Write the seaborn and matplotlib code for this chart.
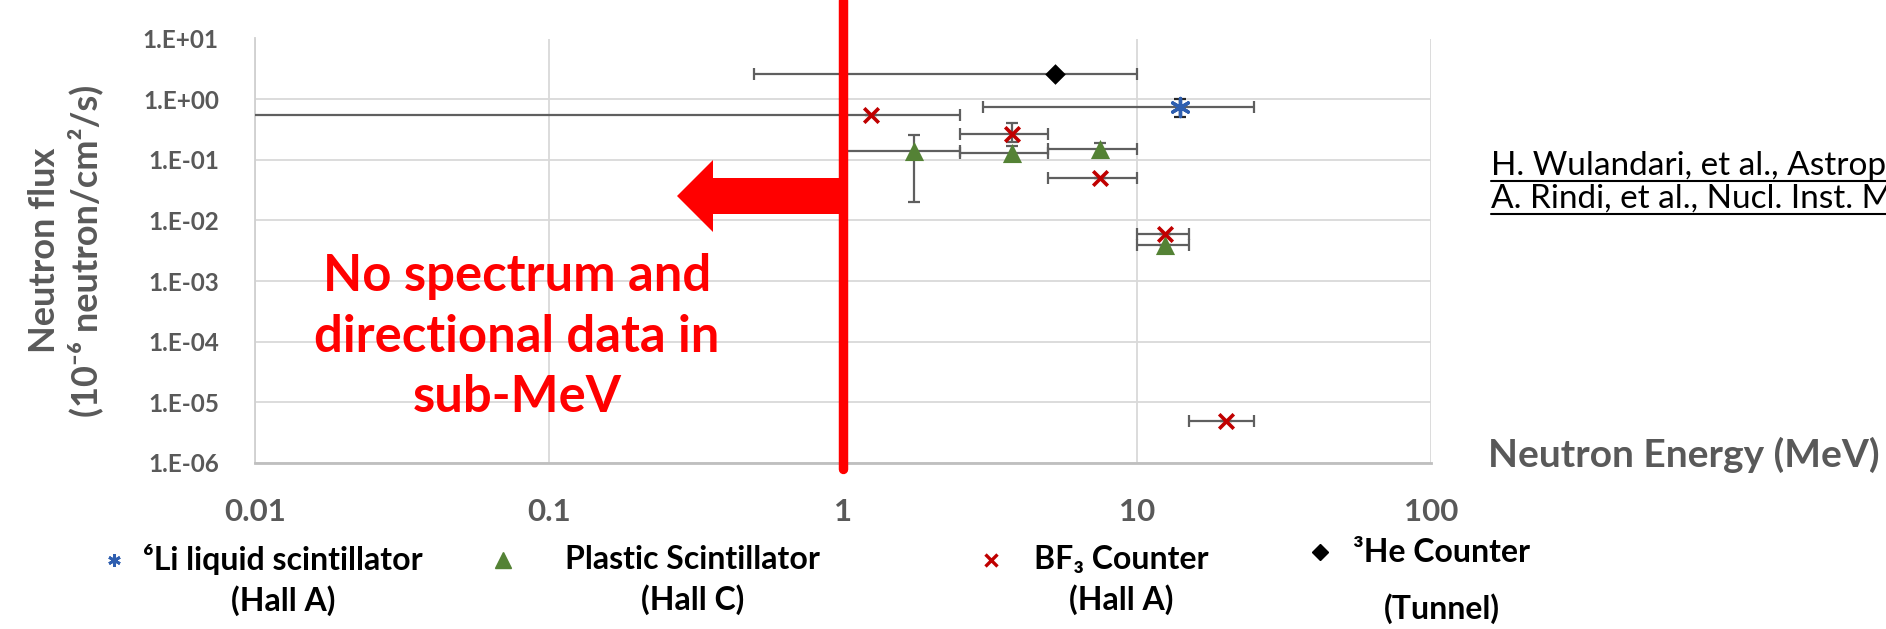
import numpy as np
import pandas as pd
import matplotlib
matplotlib.use("Agg")
import matplotlib.pyplot as plt
import seaborn as sns
from matplotlib.lines import Line2D
from matplotlib.patches import FancyArrow
from matplotlib.legend_handler import HandlerLine2D
from matplotlib.ticker import FuncFormatter, FixedLocator, NullLocator

# ---------------- data ----------------
li_E = [14.0]
li_F = [0.75]
li_Elo = [3.0]
li_Ehi = [25.0]
li_Flo = [0.5]
li_Fhi = [1.0]

pl_E = [1.75, 3.75, 7.5, 12.5]
pl_F = [0.14, 0.13, 0.15, 0.004]
pl_Elo = [1.0, 2.5, 5.0, 10.0]
pl_Ehi = [2.5, 5.0, 10.0, 15.0]
pl_Flo = [0.02, 0.10, 0.12, 0.004]
pl_Fhi = [0.26, 0.17, 0.19, 0.004]

bf_E = [1.25, 3.75, 7.5, 12.5, 20.0]
bf_F = [0.55, 0.27, 0.05, 0.006, 5e-6]
bf_Elo = [0.001, 2.5, 5.0, 10.0, 15.0]
bf_Ehi = [2.5, 5.0, 10.0, 15.0, 25.0]
bf_Flo = [0.55, 0.20, 0.05, 0.006, 5e-6]
bf_Fhi = [0.55, 0.40, 0.05, 0.006, 5e-6]

he_E = [5.25]
he_F = [2.6]
he_Elo = [0.5]
he_Ehi = [10.0]
he_Flo = [2.6]
he_Fhi = [2.6]

x_ticks = [0.01, 0.1, 1, 10, 100]
y_ticks = [1e-6, 1e-5, 1e-4, 1e-3, 1e-2, 1e-1, 1e0, 1e1]

labels = ["\u2076Li liquid scintillator\n(Hall A)",
          "Plastic Scintillator\n(Hall C)",
          "BF\u2083 Counter\n(Hall A)",
          "\u00b3He Counter\n(Tunnel)"]

# ---------------- style ----------------
sns.set_style("white")
FAM = ['Lato', 'DejaVu Sans']
plt.rcParams['font.family'] = FAM

W, H = 1886, 629
fig = plt.figure(figsize=(W / 100, H / 100), dpi=100)
ax_l, ax_r, ax_t, ax_b = 255, 1431, 38.5, 463
ax = fig.add_axes([ax_l / W, 1 - ax_b / H, (ax_r - ax_l) / W, (ax_b - ax_t) / H])

GREY = "#595959"
ERR = "#5f5f5f"
BLUE = "#2f5fb0"
GREEN = "#548235"
RED = "#c00000"

series = [
    (li_E, li_F, li_Elo, li_Ehi, li_Flo, li_Fhi, BLUE, (6, 2, 0), 170, 2.4, "#262626"),
    (pl_E, pl_F, pl_Elo, pl_Ehi, pl_Flo, pl_Fhi, GREEN, "^", 190, 0, ERR),
    (bf_E, bf_F, bf_Elo, bf_Ehi, bf_Flo, bf_Fhi, RED, "x", 110, 2.6, ERR),
    (he_E, he_F, he_Elo, he_Ehi, he_Flo, he_Fhi, "black", "D", 110, 0, ERR),
]

for E, F, Elo, Ehi, Flo, Fhi, col, mk, s, lw, ecol in series:
    E = np.array(E); F = np.array(F)
    xerr = [E - np.array(Elo), np.array(Ehi) - E]
    yerr = [F - np.array(Flo), np.array(Fhi) - F]
    ax.errorbar(E, F, xerr=xerr, fmt="none", ecolor=ERR, elinewidth=1.6,
                capsize=4, capthick=1.6, zorder=3)
    if np.any(yerr[0] > 0) or np.any(yerr[1] > 0):
        ax.errorbar(E, F, yerr=yerr, fmt="none", ecolor=ecol, elinewidth=1.6,
                    capsize=4.5, capthick=1.6, zorder=3)
    df = pd.DataFrame({"energy": E, "flux": F})
    if lw > 0:
        sns.scatterplot(data=df, x="energy", y="flux", ax=ax, marker=mk, s=s,
                        color=col, linewidth=lw, zorder=4, legend=False)
    else:
        sns.scatterplot(data=df, x="energy", y="flux", ax=ax, marker=mk, s=s,
                        color=col, linewidth=0, edgecolor=col, zorder=4, legend=False)

ax.set_xscale("log")
ax.set_yscale("log")
ax.set_xlim(0.01, 100)
ax.set_ylim(1e-6, 1e1)
ax.xaxis.set_major_locator(FixedLocator(x_ticks))
ax.yaxis.set_major_locator(FixedLocator(y_ticks))
ax.xaxis.set_minor_locator(NullLocator())
ax.yaxis.set_minor_locator(NullLocator())
ax.xaxis.set_major_formatter(FuncFormatter(lambda v, p: f"{v:g}"))
ax.yaxis.set_major_formatter(FuncFormatter(lambda v, p: f"1.E{int(round(np.log10(v))):+03d}"))
ax.tick_params(axis="x", length=0, pad=25, labelsize=22.5, labelcolor=GREY)
ax.tick_params(axis="y", length=0, pad=26, labelsize=17.5, labelcolor=GREY)
for t in ax.get_xticklabels() + ax.get_yticklabels():
    t.set_fontweight("bold")

ax.grid(True, color="#d9d9d9", linewidth=1.3)
ax.set_axisbelow(True)
for sp in ["top", "right"]:
    ax.spines[sp].set_visible(False)
ax.spines["left"].set_color("#d0d0d0")
ax.spines["left"].set_linewidth(1.3)
ax.spines["bottom"].set_color("#bfbfbf")
ax.spines["bottom"].set_linewidth(2)

ax.set_ylabel("Neutron flux\n(10\u207b\u2076 neutron/cm\u00b2/s)", fontsize=26,
              fontweight="bold", color=GREY, linespacing=1.2)
ax.yaxis.label.set_va("center")
ax.yaxis.set_label_coords(-0.161, 0.5)

ax.set_xlabel("Neutron Energy (MeV)", fontsize=28, fontweight="bold", color=GREY,
              ha="left", va="center")
ax.xaxis.set_label_coords((1488 - ax_l) / (ax_r - ax_l), (ax_b - 455) / (ax_b - ax_t))

# red boundary at 1 MeV
ax.axvline(1, ymin=-0.015, ymax=1 + ax_t / (ax_b - ax_t), color="#ff0000",
           linewidth=6.8, clip_on=False, zorder=6)

# arrow
axw, axh = ax_r - ax_l, ax_b - ax_t
tail_x = (841 - ax_l) / axw
tip_x = (677 - ax_l) / axw
yc = (ax_b - 196) / axh
arrow = FancyArrow(tail_x, yc, tip_x - tail_x, 0, width=36 / axh, head_width=72 / axh,
                   head_length=(713 - 677) / axw, length_includes_head=True,
                   color="#ff0000", transform=ax.transAxes, zorder=6, linewidth=0)
ax.add_patch(arrow)

ax.text((517 - ax_l) / axw, (ax_b - 337) / axh,
        "No spectrum and\ndirectional data in\nsub-MeV", transform=ax.transAxes,
        ha="center", va="center", fontsize=36.5, fontweight="bold", color="#ff0000",
        linespacing=1.36, zorder=7)

# references
refs = ["H. Wulandari, et al., Astropart. Phys. 22 (2004) 313",
        "A. Rindi, et al., Nucl. Inst. Meth. A 272 (1988) 871"]
for i, r in enumerate(refs):
    yb = 175 + 33 * i
    fig.text(1491 / W, 1 - yb / H, r, fontsize=24, color="black", ha="left",
             va="baseline")
    fig.add_artist(Line2D([1491 / W, 1.0], [1 - (yb + 6) / H] * 2, color="black",
                          linewidth=1.5, transform=fig.transFigure))


# legend: one entry per box, marker aligned to first text line
class ShiftedHandler(HandlerLine2D):
    def __init__(self, shift, **kw):
        super().__init__(**kw)
        self.shift = shift

    def create_artists(self, legend, orig_handle, xdescent, ydescent, width,
                       height, fontsize, trans):
        arts = super().create_artists(legend, orig_handle, xdescent, ydescent,
                                      width, height, fontsize, trans)
        for a in arts:
            a.set_ydata(np.asarray(a.get_ydata(), dtype=float) + self.shift)
        return arts


handles = [
    Line2D([], [], marker=(6, 2, 0), color=BLUE, linestyle="none", markersize=9, markeredgewidth=2),
    Line2D([], [], marker="^", color=GREEN, linestyle="none", markersize=11),
    Line2D([], [], marker="x", color=RED, linestyle="none", markersize=9, markeredgewidth=2.4),
    Line2D([], [], marker="D", color="black", linestyle="none", markersize=8),
]
LFS = 23
em = LFS * 100 / 72
marker_x = [114, 503, 991, 1320]
text_x = [143, 565, 1034, 1353]
line_gap = [42, 42, 42, 60]
mid_y = [580, 580, 580, 581]
for h, lab, mx, tx, gap, my in zip(handles, labels, marker_x, text_x, line_gap, mid_y):
    hl = 0.8
    pad = (tx - mx) / em - hl / 2
    leg = fig.legend([h], [lab], loc="center left",
                     bbox_to_anchor=((mx - hl * em / 2) / W, 1 - my / H),
                     frameon=False, borderpad=0, borderaxespad=0,
                     handlelength=hl, handletextpad=pad,
                     handler_map={h: ShiftedHandler(gap / 2 * 0.72)},
                     prop={"size": LFS, "weight": "bold", "family": FAM})
    for t in leg.get_texts():
        t.set_multialignment("center")
        t.set_linespacing(gap / em / 0.925)
        t.set_color("black")

fig.savefig("out.png", dpi=100)
